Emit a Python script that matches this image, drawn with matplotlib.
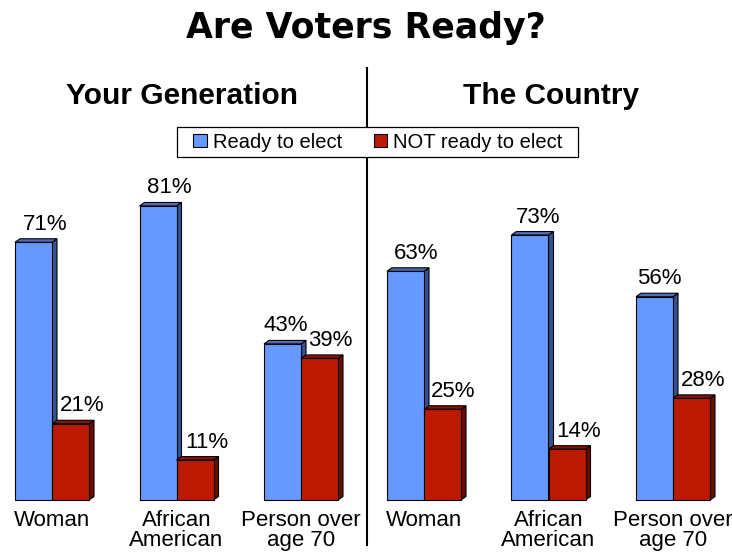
import matplotlib
matplotlib.use("Agg")
import matplotlib.pyplot as plt
from matplotlib.patches import Polygon, Rectangle
from matplotlib.lines import Line2D

# Survey results (percent)
categories = ["Woman", "African\nAmerican", "Person over\nage 70"]
series_names = ["Ready to elect", "NOT ready to elect"]
generation_ready = [71, 81, 43]
generation_not_ready = [21, 11, 39]
country_ready = [63, 73, 56]
country_not_ready = [25, 14, 28]
panel_titles = ["Your Generation", "The Country"]

# horizontal nudges (pixels) of the value labels, per category and series
generation_label_shift = [(12, 12), (11, 12), (3, 11)]
country_label_shift = [(11, 11), (8, 12), (5, 12)]

FRONT = ["#6699ff", "#bb1a00"]
SIDE = ["#34528f", "#6a0c00"]
TOP = ["#4a6fbd", "#8a1400"]

W, H = 732, 552
fig = plt.figure(figsize=(W / 100, H / 100), dpi=100)

BASE_Y = 500          # pixel row of bar bottoms
PX_PER_PCT = 3.63     # vertical pixels per percentage point
GROUP_PX = 124.5      # pixels between category centres
BAR_PX = 37           # pixel width of one bar
DEPTH_X, DEPTH_Y = 5, 3.5
PT = 0.72             # points per pixel at 100 dpi
FONT = "Liberation Sans"


def make_axes(x0, x1, first_center):
    top = BASE_Y - 100 * PX_PER_PCT
    ax = fig.add_axes([x0 / W, (H - BASE_Y) / H, (x1 - x0) / W, (BASE_Y - top) / H])
    ax.set_xlim(-(first_center - x0) / GROUP_PX, (x1 - first_center) / GROUP_PX)
    ax.set_ylim(0, 100)
    ax.axis("off")
    ax.patch.set_visible(False)
    return ax


def draw_bars(ax, ready, not_ready, shifts):
    dx = DEPTH_X / GROUP_PX
    dy = DEPTH_Y / PX_PER_PCT
    w = BAR_PX / GROUP_PX
    for i, vals in enumerate(zip(ready, not_ready)):
        for s, v in enumerate(vals):
            left = i - w if s == 0 else i
            right = left + w
            # side face
            ax.add_patch(Polygon([(right, 0), (right + dx, dy), (right + dx, v + dy), (right, v)],
                                 closed=True, facecolor=SIDE[s], edgecolor="black",
                                 linewidth=0.8, zorder=2 + s * 2, clip_on=False))
            # top face
            ax.add_patch(Polygon([(left, v), (left + dx, v + dy), (right + dx, v + dy), (right, v)],
                                 closed=True, facecolor=TOP[s], edgecolor="black",
                                 linewidth=0.8, zorder=2 + s * 2, clip_on=False))
            # front face
            ax.add_patch(Rectangle((left, 0), w, v, facecolor=FRONT[s], edgecolor="black",
                                   linewidth=0.8, zorder=3 + s * 2, clip_on=False))
            ax.annotate(f"{v}%", xy=(left + w / 2, v + dy),
                        xytext=(shifts[i][s] * PT, 9 * PT), textcoords="offset points",
                        ha="center", va="baseline", fontsize=16, family=FONT, zorder=10)
        ax.annotate(categories[i], xy=(i, 0), xytext=(0, -10 * PT), textcoords="offset points",
                    ha="center", va="top", fontsize=16, family=FONT, linespacing=0.95)


ax1 = make_axes(0, 366, 52)
draw_bars(ax1, generation_ready, generation_not_ready, generation_label_shift)
ax2 = make_axes(367, 732, 424)
draw_bars(ax2, country_ready, country_not_ready, country_label_shift)

# headings
fig.text(366 / W, 1 - 28 / H, "Are Voters Ready?", ha="center", va="center",
         fontsize=25, fontweight="bold", family="DejaVu Sans")
fig.text(182 / W, 1 - 96 / H, panel_titles[0], ha="center", va="center",
         fontsize=21.5, fontweight="bold", family=FONT)
fig.text(551 / W, 1 - 96 / H, panel_titles[1], ha="center", va="center",
         fontsize=21.5, fontweight="bold", family=FONT)

# divider between the two panels
fig.add_artist(Line2D([367 / W, 367 / W], [1 - 68 / H, 1 - 545 / H], color="black",
                      linewidth=1.5, transform=fig.transFigure))

# legend box with its own frame
fig.add_artist(Rectangle((177 / W, 1 - 157 / H), 401 / W, 30 / H, transform=fig.transFigure,
                         facecolor="white", edgecolor="black", linewidth=0.9, zorder=19))
handles = [Rectangle((0, 0), 1, 1, facecolor=FRONT[k], edgecolor="black", linewidth=0.8)
           for k in range(2)]
leg = fig.legend(handles, series_names, loc="center", bbox_to_anchor=(378 / W, 1 - 142 / H),
                 ncol=2, frameon=False,
                 prop={"family": FONT, "size": 14.5},
                 handlelength=0.68, handleheight=0.68, handletextpad=0.3,
                 columnspacing=1.55, borderpad=0.0, borderaxespad=0)
leg.set_zorder(20)

fig.savefig("out.png", dpi=100, facecolor="white")
